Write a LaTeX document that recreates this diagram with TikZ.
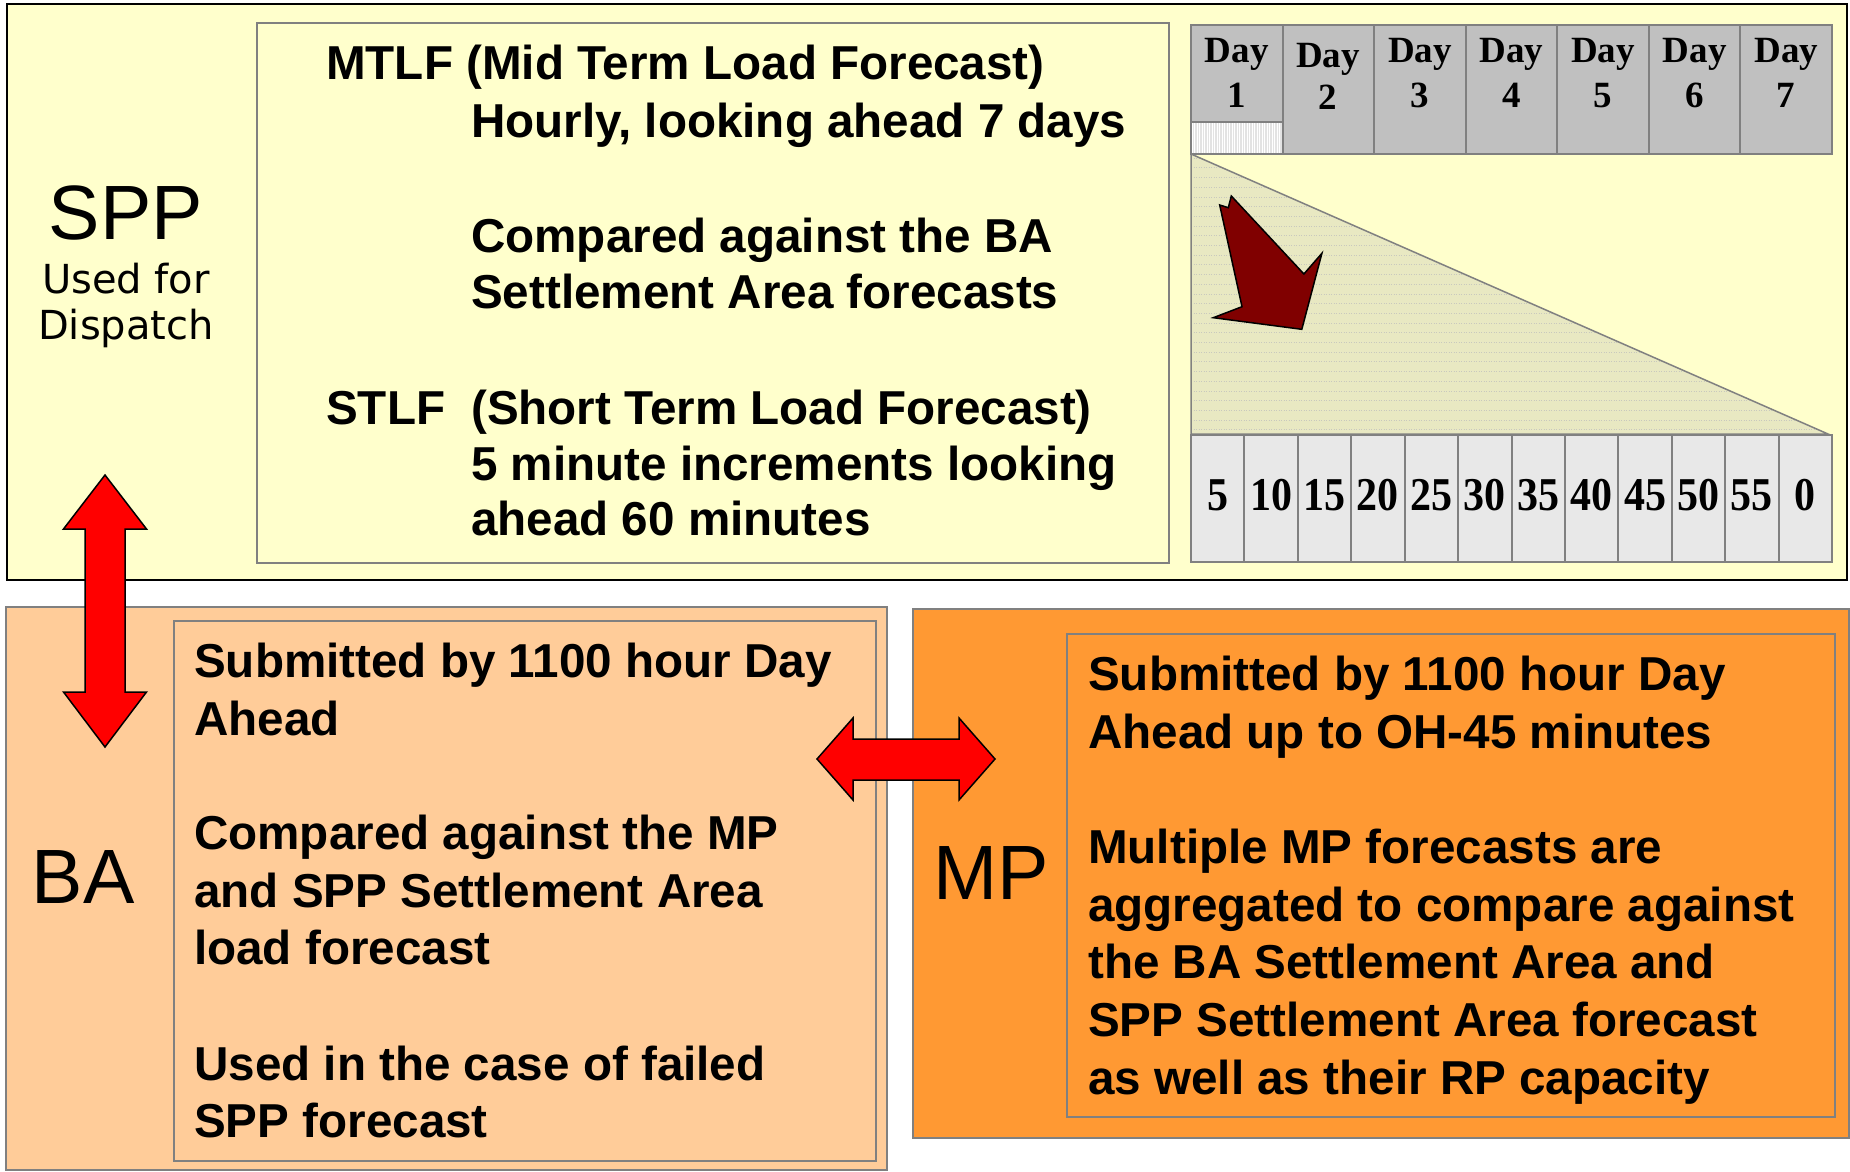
\documentclass[tikz,border=0pt]{standalone}
\usepackage{fontspec}
\usepackage{graphicx}
\setmainfont{Liberation Sans}
\newfontfamily\tnr{Liberation Serif}
\newfontfamily\dvs{DejaVu Sans}
\definecolor{topfill}{RGB}{255,255,204}
\definecolor{bafill}{RGB}{255,204,153}
\definecolor{mpfill}{RGB}{255,153,51}
\definecolor{dayfill}{RGB}{192,192,192}
\definecolor{minfill}{RGB}{232,232,232}
\definecolor{trifill}{RGB}{232,232,194}
\definecolor{triline}{RGB}{200,200,190}
\definecolor{boxgray}{RGB}{128,128,128}
\definecolor{darkred}{RGB}{128,0,0}
\definecolor{arrred}{RGB}{255,0,0}
\begin{document}
\begin{tikzpicture}[x=1pt,y=-1pt,
  txt/.style={anchor=base west, inner sep=0pt, font=\fontsize{47.6}{57}\selectfont\bfseries},
  daytxt/.style={anchor=base, inner sep=0pt, font=\fontsize{37}{40}\selectfont\tnr\bfseries},
  mintxt/.style={anchor=base, inner sep=0pt, font=\fontsize{42}{44}\selectfont\tnr\bfseries},
  biglbl/.style={anchor=base, inner sep=0pt, font=\fontsize{77}{85}\selectfont},
  smalllbl/.style={anchor=base, inner sep=0pt, font=\fontsize{40}{45}\selectfont\dvs},
  graybox/.style={draw=boxgray, line width=2pt},
  blockarrow/.style={fill=arrred, draw=black, line width=1.5pt, line join=miter},
]
\useasboundingbox (0,0) rectangle (1850,1172);
\fill[white] (0,0) rectangle (1850,1172);

% ---------- top (SPP) panel ----------
\draw[line width=2.5pt, fill=topfill] (7,4) rectangle (1847,580);
\draw[graybox] (257,23) rectangle (1169,563);

% Day boxes
\foreach \i in {1,...,7}{
  \pgfmathsetmacro{\xa}{1191+(\i-1)*91.57}
  \pgfmathsetmacro{\xb}{1191+\i*91.57}
  \fill[dayfill] (\xa,25) rectangle (\xb,154);
}
% hatched lower part of Day 1
\fill[gray!22] (1191,122) rectangle (1283,154);
\foreach \k in {0,...,36}{
  \draw[white, line width=0.8pt] ({1192+\k*2.5},122) -- ({1192+\k*2.5},154);
}
\foreach \i in {1,...,7}{
  \pgfmathsetmacro{\xa}{1191+(\i-1)*91.57}
  \pgfmathsetmacro{\xb}{1191+\i*91.57}
  \draw[graybox] (\xa,25) rectangle (\xb,154);
}
\draw[graybox] (1191,122) -- (1283,122);

\foreach \i in {1,3,4,5,6,7}{
  \pgfmathsetmacro{\xc}{1191+(\i-0.5)*91.57}
  \node[daytxt] (day\i) at (\xc,63) {Day};
  \node[daytxt] (dnum\i) at (\xc,107) {\i};
}
\node[daytxt] (day2) at (1328,67) {Day};
\node[daytxt] (dnum2) at (1328,110) {2};

% triangle
\fill[trifill] (1191,154) -- (1191,434) -- (1828,434) -- cycle;
\begin{scope}
  \clip (1191,154) -- (1191,434) -- (1828,434) -- cycle;
  \foreach \k in {0,...,28}{
    \draw[triline, line width=0.5pt, dotted] (1191,{158+\k*9.7}) -- (1830,{158+\k*9.7});
  }
\end{scope}
\draw[boxgray, line width=1.5pt] (1191,154) -- (1191,434) -- (1828,434) -- cycle;

% dark red arrow
\draw[fill=darkred, draw=black, line width=1.5pt, line join=miter]
  (1219.7,205) -- (1228.3,207.7) -- (1231.3,196) -- (1303.9,274) -- (1321.9,253.3)
  -- (1301.8,329.3) -- (1213.3,317.7) -- (1242,306.7) -- cycle;

% minute boxes
\foreach \i [count=\n] in {5,10,15,20,25,30,35,40,45,50,55,0}{
  \pgfmathsetmacro{\xa}{1191+(\n-1)*53.42}
  \pgfmathsetmacro{\xb}{1191+\n*53.42}
  \pgfmathsetmacro{\xc}{1191+(\n-0.5)*53.42}
  \draw[graybox, fill=minfill] (\xa,435) rectangle (\xb,562);
  \node[mintxt] (min\n) at (\xc,510) {\scalebox{1}[1.12]{\i}};
}

% SPP label
\node[biglbl] (spp) at (126,239) {SPP};
\node[smalllbl] (usedfor) at (126,293) {Used for};
\node[smalllbl] (dispatch) at (126,339) {Dispatch};

% MTLF / STLF text
\node[txt] (t1) at (326,79) {MTLF (Mid Term Load Forecast)};
\node[txt] (t2) at (471,137) {Hourly, looking ahead 7 days};
\node[txt] (t3) at (471,252) {Compared against the BA};
\node[txt] (t4) at (471,308) {Settlement Area forecasts};
\node[txt] (t5) at (326,424) {STLF\hspace{26pt}(Short Term Load Forecast)};
\node[txt] (t6) at (471,480) {5 minute increments looking};
\node[txt] (t7) at (471,535) {ahead 60 minutes};

% ---------- BA panel ----------
\draw[graybox, fill=bafill] (6,607) rectangle (887,1170);
\draw[graybox] (174,621) rectangle (876,1161);
\node[biglbl] (ba) at (83,903) {BA};
\node[txt] (b1) at (194,677) {Submitted by 1100 hour Day};
\node[txt] (b2) at (194,735) {Ahead};
\node[txt] (b3) at (194,849) {Compared against the MP};
\node[txt] (b4) at (194,907) {and SPP Settlement Area};
\node[txt] (b5) at (194,964) {load forecast};
\node[txt] (b6) at (194,1080) {Used in the case of failed};
\node[txt] (b7) at (194,1137) {SPP forecast};

% ---------- MP panel ----------
\draw[graybox, fill=mpfill] (913,609) rectangle (1849,1138);
\draw[graybox] (1067,634) rectangle (1835,1117);
\node[biglbl] (mp) at (991,899) {MP};
\node[txt] (m1) at (1088,690) {Submitted by 1100 hour Day};
\node[txt] (m2) at (1088,748) {Ahead up to OH-45 minutes};
\node[txt] (m3) at (1088,863) {Multiple MP forecasts are};
\node[txt] (m4) at (1088,921) {aggregated to compare against};
\node[txt] (m5) at (1088,978) {the BA Settlement Area and};
\node[txt] (m6) at (1088,1036) {SPP Settlement Area forecast};
\node[txt] (m7) at (1088,1094) {as well as their RP capacity};

% ---------- red double arrows ----------
\draw[blockarrow] (105,475) -- (146.5,529) -- (125,529) -- (125,692) -- (146.5,692)
  -- (105,747) -- (63.5,692) -- (85,692) -- (85,529) -- (63.5,529) -- cycle;
\draw[blockarrow] (817,759) -- (853,718) -- (853,739) -- (959,739) -- (959,718)
  -- (995,759) -- (959,800) -- (959,780) -- (853,780) -- (853,800) -- cycle;
\end{tikzpicture}
\end{document}
